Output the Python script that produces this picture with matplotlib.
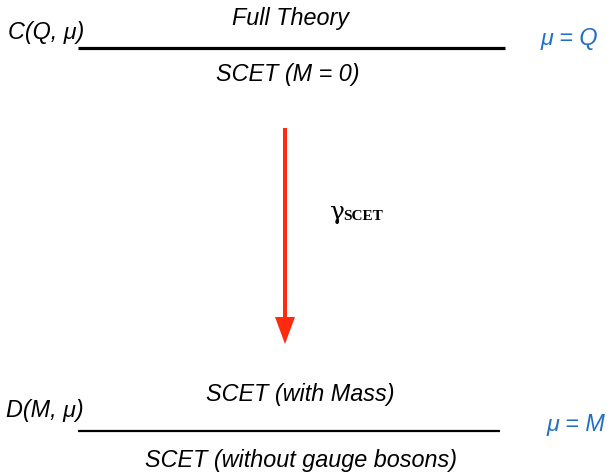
import matplotlib.pyplot as plt
from matplotlib.patches import FancyArrow

# scale lines: (label left, text above, text below, scale label, y, x0, x1, lw)
left_labels = ["C(Q, \u03bc)", "D(M, \u03bc)"]
above_labels = ["Full Theory", "SCET (with Mass)"]
below_labels = ["SCET (M = 0)", "SCET (without gauge bosons)"]
scale_labels = ["\u03bc = Q", "\u03bc = M"]

line_y = [48, 431]
line_x0 = [78, 78]
line_x1 = [505, 500]
line_w = [2.3, 1.6]

fig = plt.figure(figsize=(6.07, 4.72), dpi=100)
ax = fig.add_axes([0, 0, 1, 1])
ax.set_xlim(0, 607)
ax.set_ylim(472, 0)
ax.axis("off")

font = dict(family="Liberation Sans", style="italic", fontsize=16.8)
blue = "#1f6fc4"

for i in range(2):
    ax.plot([line_x0[i], line_x1[i]], [line_y[i], line_y[i]], color="black",
            lw=line_w[i], solid_capstyle="butt")

ax.text(8, 33, left_labels[0], ha="left", va="center", **font)
ax.text(291, 19, above_labels[0], ha="center", va="center", **font)
ax.text(288, 75, below_labels[0], ha="center", va="center", **font)
ax.text(598, 38, scale_labels[0], ha="right", va="center", color=blue, **font)

ax.text(6, 410, left_labels[1], ha="left", va="center", **font)
ax.text(300, 395, above_labels[1], ha="center", va="center", **font)
ax.text(301, 460, below_labels[1], ha="center", va="center", **font)
ax.text(605, 425, scale_labels[1], ha="right", va="center", color=blue, **font)

# running arrow
ax.add_patch(FancyArrow(285, 128, 0, 216, width=4, head_width=20, head_length=27,
                        length_includes_head=True, color="#ff2a0f", lw=0))
ax.text(329, 213, "\u03b3", ha="left", va="center", fontsize=18,
        family="DejaVu Serif")
ax.text(343, 216, "SCET", ha="left", va="center", fontsize=11,
        family="Liberation Serif", weight="bold")

fig.savefig("out.png", dpi=100)
